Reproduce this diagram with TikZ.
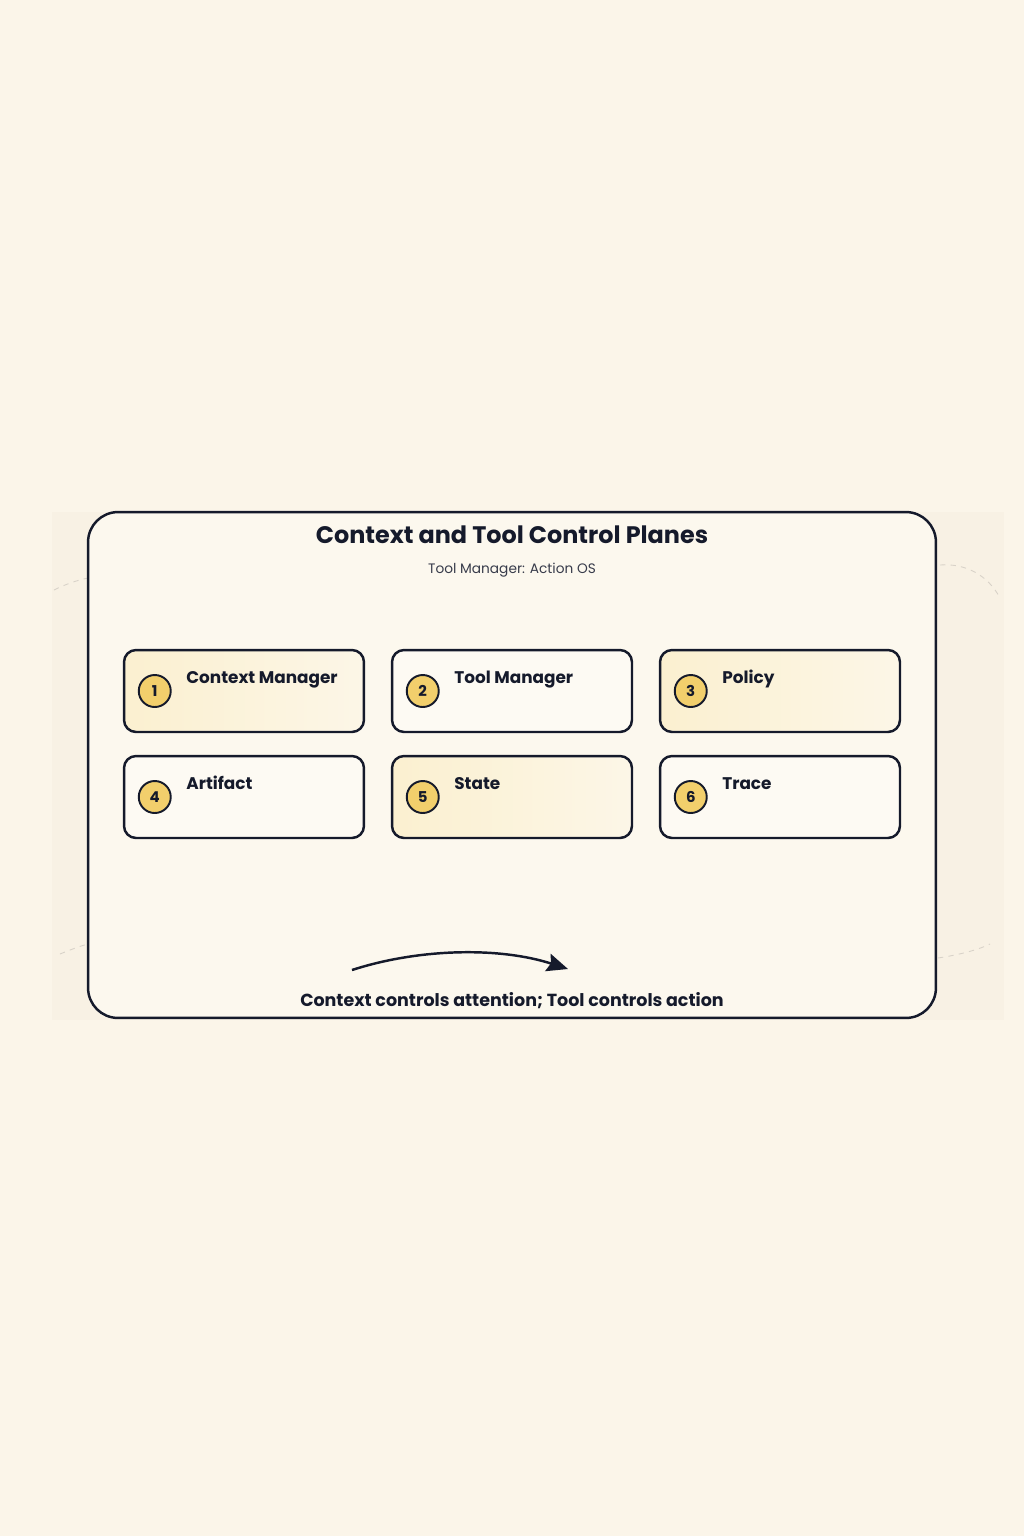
\documentclass[tikz,border=0pt]{standalone}
\usepackage{fontspec}
\setmainfont{Poppins}
\usepackage{xcolor}
\usepackage{tikz}
\usetikzlibrary{arrows.meta, positioning, calc}
\definecolor{pagebg}{HTML}{FBF5E9}
\definecolor{panelbg}{HTML}{FCF8EE}
\definecolor{shadowbg}{HTML}{F8F1E4}
\definecolor{inkdark}{HTML}{151A2B}
\definecolor{dotyellow}{HTML}{F2CF6C}
\definecolor{warmcard}{HTML}{FBF0D0}
\definecolor{warmlight}{HTML}{FCF6E7}
\definecolor{palecard}{HTML}{FDFAF3}
\definecolor{dashgrey}{HTML}{D8D2C8}

\begin{document}
\begin{tikzpicture}[
    x=0.02cm, y=-0.02cm,
    card/.style={rectangle, rounded corners=0.24cm, draw=inkdark, line width=1.4pt, minimum width=4.8cm, minimum height=1.64cm, inner sep=0pt},
    warm/.style={card, left color=warmcard, right color=warmlight},
    plain/.style={card, fill=palecard},
    numdot/.style={circle, draw=inkdark, line width=1.1pt, fill=dotyellow, minimum size=0.64cm, inner sep=0pt, text=inkdark, font=\fontsize{8.5}{10}\selectfont\bfseries},
    cardtitle/.style={anchor=base west, inner sep=0pt, text=inkdark, font=\fontsize{9.6}{12}\selectfont\bfseries},
    faint/.style={dashgrey, dashed, line width=0.5pt}
]
% Page
\fill[pagebg] (0,0) rectangle (1024,1536);
\useasboundingbox (0,0) rectangle (1024,1536);
\fill[shadowbg] (52,512) rectangle (1004,1020);

% Faint dashed arcs
\draw[faint] (54,590) .. controls (66,584) and (78,580) .. (88,578);
\draw[faint] (60,954) .. controls (70,950) and (80,946) .. (88,944);
\draw[faint] (940,565) .. controls (965,563) and (988,575) .. (1000,598);
\draw[faint] (938,958) .. controls (958,955) and (978,950) .. (990,944);

% Panel
\node[rectangle, rounded corners=0.6cm, draw=inkdark, line width=1.4pt, fill=panelbg, minimum width=16.96cm, minimum height=10.12cm, inner sep=0pt] (panel) at (512,765) {};
\node[text=inkdark, font=\fontsize{13.6}{17}\selectfont\bfseries] (title) at (512,535) {Context and Tool Control Planes};
\node[text=inkdark!85, font=\fontsize{7.8}{10}\selectfont] (subtitle) at (512,570) {Tool Manager: Action OS};

% Cards
\node[warm] (ctxmgr) at (244,691) {};
\node[plain] (toolmgr) at (512,691) {};
\node[warm] (policy) at (780,691) {};
\node[plain] (artifact) at (244,797) {};
\node[warm] (state) at (512,797) {};
\node[plain] (trace) at (780,797) {};

% Numbers
\node[numdot, right=0.3cm of ctxmgr.west] (n1) {1};
\node[numdot, right=0.3cm of toolmgr.west] (n2) {2};
\node[numdot, right=0.3cm of policy.west] (n3) {3};
\node[numdot, right=0.3cm of artifact.west] (n4) {4};
\node[numdot, right=0.3cm of state.west] (n5) {5};
\node[numdot, right=0.3cm of trace.west] (n6) {6};

% Labels
\node[cardtitle] (l1) at (186,683) {Context Manager};
\node[cardtitle] (l2) at (454,683) {Tool Manager};
\node[cardtitle] (l3) at (722,683) {Policy};
\node[cardtitle] (l4) at (186,789) {Artifact};
\node[cardtitle] (l5) at (454,789) {State};
\node[cardtitle] (l6) at (722,789) {Trace};

% Flow arrow
\coordinate (arrstart) at (352,970);
\coordinate (arrend) at (568,969);
\draw[inkdark, line width=1.4pt, -{Stealth[length=0.42cm, width=0.36cm, inset=0.06cm]}] (arrstart) .. controls (420,948) and (500,947) .. (arrend);
\node[text=inkdark, font=\fontsize{9.95}{13}\selectfont\bfseries] (caption) at (512,1001) {Context controls attention; Tool controls action};
\end{tikzpicture}
\end{document}
